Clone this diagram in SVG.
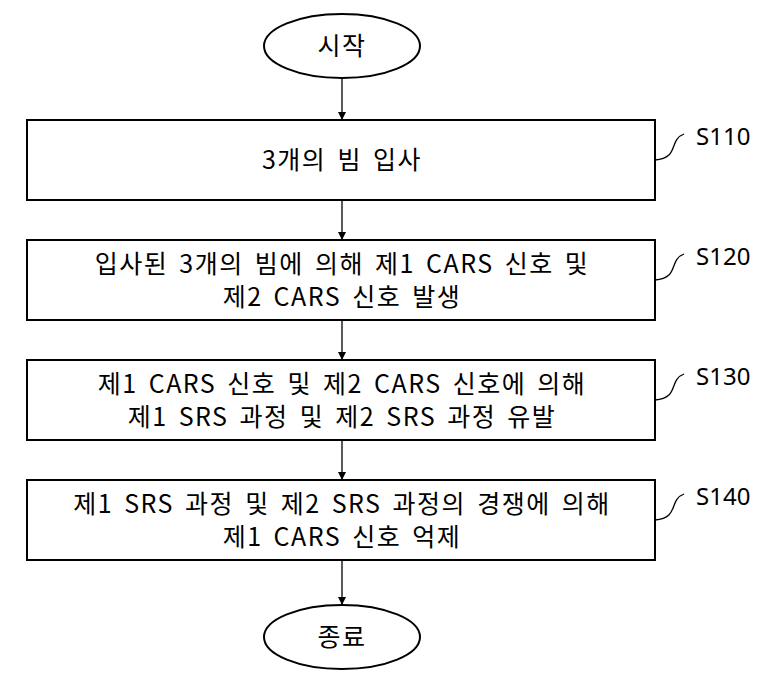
<svg xmlns="http://www.w3.org/2000/svg" width="775" height="678" viewBox="0 0 775 678">
<defs><marker id="a" markerWidth="8" markerHeight="8" refX="7" refY="4" orient="auto" markerUnits="userSpaceOnUse"><path d="M0,0L8,4L0,8z" fill="#000"/></marker></defs>
<style>
.s{fill:#fff;stroke:#000;stroke-width:2}
.t{font-family:"Noto Sans CJK KR","Noto Sans",sans-serif;font-size:25px;letter-spacing:1.5px;word-spacing:4px;text-anchor:middle;fill:#000}
.l{font-family:"Noto Sans","Noto Sans CJK KR",sans-serif;font-size:24px;fill:#000}
.c{fill:none;stroke:#000;stroke-width:1.3}
</style>
<rect width="775" height="678" fill="#fff"/>
<g id="connectors">
<line class="c" x1="342" y1="78" x2="342" y2="119" marker-end="url(#a)"/>
<line class="c" x1="342" y1="200" x2="342" y2="239" marker-end="url(#a)"/>
<line class="c" x1="342" y1="320" x2="342" y2="359" marker-end="url(#a)"/>
<line class="c" x1="342" y1="440" x2="342" y2="479" marker-end="url(#a)"/>
<line class="c" x1="342" y1="560" x2="342" y2="604" marker-end="url(#a)"/>
<path class="c" d="M655,160 C680,158 668,140 684,134"/>
<path class="c" d="M655,280 C680,278 668,260 684,254"/>
<path class="c" d="M655,400 C680,398 668,380 684,374"/>
<path class="c" d="M655,520 C680,518 668,500 684,494"/>
</g>
<g id="start"><ellipse class="s" cx="342" cy="46" rx="78" ry="32"/><text class="t" x="342" y="55">시작</text></g>
<g id="s110"><rect class="s" x="27" y="120" width="628" height="80"/><text class="t" x="342" y="169">3개의 빔 입사</text><text class="l" x="696" y="145">S110</text></g>
<g id="s120"><rect class="s" x="27" y="240" width="628" height="80"/><text class="t" x="342" y="273">입사된 3개의 빔에 의해 제1 CARS 신호 및</text><text class="t" x="342" y="306">제2 CARS 신호 발생</text><text class="l" x="696" y="265">S120</text></g>
<g id="s130"><rect class="s" x="27" y="360" width="628" height="80"/><text class="t" x="342" y="393">제1 CARS 신호 및 제2 CARS 신호에 의해</text><text class="t" x="342" y="426">제1 SRS 과정 및 제2 SRS 과정 유발</text><text class="l" x="696" y="385">S130</text></g>
<g id="s140"><rect class="s" x="27" y="480" width="628" height="80"/><text class="t" x="342" y="513">제1 SRS 과정 및 제2 SRS 과정의 경쟁에 의해</text><text class="t" x="342" y="546">제1 CARS 신호 억제</text><text class="l" x="696" y="505">S140</text></g>
<g id="end"><ellipse class="s" cx="342" cy="637" rx="78" ry="32"/><text class="t" x="342" y="646">종료</text></g>
</svg>
